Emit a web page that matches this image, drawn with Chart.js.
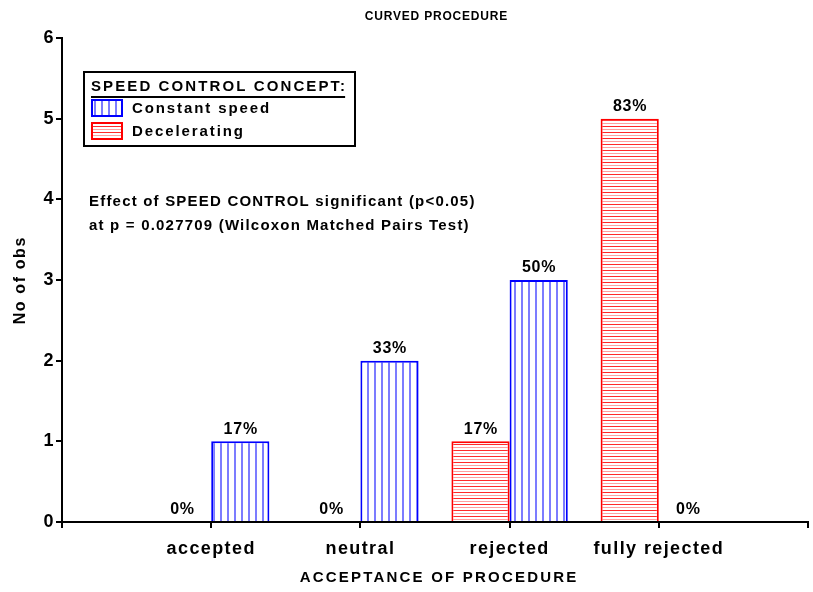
<!DOCTYPE html>
<html>
<head>
<meta charset="utf-8">
<script src="https://cdn.jsdelivr.net/npm/chart.js@4.4.0/dist/chart.umd.min.js"></script>
<style>
  html, body { margin: 0; padding: 0; background: #fff; }
  #wrap { width: 813px; height: 592px; }
</style>
</head>
<body>
<div id="wrap"><canvas id="chart" width="813" height="592"></canvas></div>
<script>
const categories = ['accepted', 'neutral', 'rejected', 'fully rejected'];
const decelerating = [0, 0, 1, 5];
const constantSpeed = [1, 2, 3, 0];
const deceleratingPct = ['0%', '0%', '17%', '83%'];
const constantPct = ['17%', '33%', '50%', '0%'];
const yMax = 6;

const chartTitle = 'CURVED PROCEDURE';
const xTitle = 'ACCEPTANCE OF PROCEDURE';
const yTitle = 'No of obs';
const legendTitle = 'SPEED CONTROL CONCEPT:';
const legendItems = ['Constant speed', 'Decelerating'];
const noteLines = [
    'Effect of SPEED CONTROL significant (p<0.05)',
    'at p = 0.027709 (Wilcoxon Matched Pairs Test)'
];

const FONT = '"Liberation Sans", Arial, sans-serif';

// hatch fills like the original
function makePattern(vertical) {
    const t = document.createElement('canvas');
    const tc = t.getContext('2d');
    if (vertical) {
        t.width = 7; t.height = 7;
        tc.fillStyle = '#fff'; tc.fillRect(0, 0, 7, 7);
        tc.fillStyle = '#7c7cff'; tc.fillRect(3, 0, 2, 7);
    } else {
        t.width = 6; t.height = 6;
        tc.fillStyle = '#fff'; tc.fillRect(0, 0, 6, 6);
        tc.fillStyle = '#ff2a2a'; tc.fillRect(0, 0, 6, 1);
        tc.fillStyle = '#ffa0a0'; tc.fillRect(0, 3, 6, 1);
    }
    return document.getElementById('chart').getContext('2d').createPattern(t, 'repeat');
}
const bluePattern = makePattern(true);
const redPattern = makePattern(false);

// pad the category axis so ticks fall at 1..4 of 0..5
const labels = [''].concat(categories, ['']);
const pad = arr => [null].concat(arr, [null]);
const pctLabels = [deceleratingPct, constantPct];

function spacedText(ctx, text, x, y, size, spacing, align) {
    ctx.save();
    ctx.font = `bold ${size}px ${FONT}`;
    ctx.letterSpacing = spacing + 'px';
    ctx.fillStyle = '#000';
    ctx.textBaseline = 'middle';
    const w = ctx.measureText(text).width - spacing;
    const sx = align === 'center' ? x - w / 2 : x;
    ctx.textAlign = 'left';
    ctx.fillText(text, sx, y);
    ctx.restore();
    return w;
}

const decorPlugin = {
    id: 'decor',
    beforeDraw(chart) {
        chart.ctx.letterSpacing = '1.4px';
    },
    afterDatasetsDraw(chart) {
        const ctx = chart.ctx;
        chart.data.datasets.forEach((ds, di) => {
            chart.getDatasetMeta(di).data.forEach((bar, i) => {
                if (ds.data[i] === null) return;
                spacedText(ctx, pctLabels[di][i - 1], bar.x, bar.y - 12, 16, 0.8, 'center');
            });
        });
    },
    afterDraw(chart) {
        const ctx = chart.ctx;
        const area = chart.chartArea;
        spacedText(ctx, chartTitle, 436, 17, 12, 0.8, 'center');
        spacedText(ctx, xTitle, 438, 578, 15, 2.2, 'center');

        ctx.save();
        ctx.translate(21, 281);
        ctx.rotate(-Math.PI / 2);
        spacedText(ctx, yTitle, 0, 0, 16, 1.6, 'center');
        ctx.restore();

        // legend box
        ctx.save();
        ctx.strokeStyle = '#000';
        ctx.lineWidth = 2;
        ctx.strokeRect(84, 72, 271, 74);
        const tw = spacedText(ctx, legendTitle, 91, 87, 15, 2.1, 'left');
        ctx.fillRect(91, 96, tw, 2);
        const swatches = [[bluePattern, '#0000ff'], [redPattern, '#ff0000']];
        legendItems.forEach((txt, k) => {
            const y = 100 + k * 23;
            ctx.fillStyle = swatches[k][0];
            ctx.fillRect(92, y, 30, 16);
            ctx.strokeStyle = swatches[k][1];
            ctx.strokeRect(92, y, 30, 16);
            spacedText(ctx, txt, 132, y + 9, 15, 1.9, 'left');
        });
        ctx.restore();

        noteLines.forEach((line, k) => spacedText(ctx, line, 89, 202 + k * 24, 15, 1.2, 'left'));
    }
};

new Chart(document.getElementById('chart'), {
    type: 'bar',
    data: {
        labels,
        datasets: [
            { label: legendItems[1], data: pad(decelerating), backgroundColor: redPattern, borderColor: '#ff0000', borderWidth: 2 },
            { label: legendItems[0], data: pad(constantSpeed), backgroundColor: bluePattern, borderColor: '#0000ff', borderWidth: 2 }
        ]
    },
    options: {
        responsive: false,
        animation: false,
        devicePixelRatio: 1,
        categoryPercentage: 0.78,
        barPercentage: 1,
        layout: { padding: { top: 38, right: 5, left: 0, bottom: 0 } },
        plugins: { legend: { display: false }, tooltip: { enabled: false } },
        scales: {
            x: {
                offset: false,
                grid: { offset: false, drawOnChartArea: false, color: '#000', lineWidth: 2, tickLength: 6 },
                border: { color: '#000', width: 2 },
                ticks: { color: '#000', font: { family: FONT, size: 18, weight: 'bold' }, padding: 10, maxRotation: 0, autoSkip: false },
                afterFit: s => { s.height = 70; s.paddingLeft = 0; s.paddingRight = 0; }
            },
            y: {
                min: 0,
                max: yMax,
                grid: { drawOnChartArea: false, color: '#000', lineWidth: 2, tickLength: 6 },
                border: { color: '#000', width: 2 },
                ticks: { stepSize: 1, color: '#000', font: { family: FONT, size: 18, weight: 'bold' }, padding: 1 },
                afterFit: s => { s.width = 62; s.paddingTop = 0; s.paddingBottom = 0; }
            }
        }
    },
    plugins: [decorPlugin]
});
</script>
</body>
</html>
